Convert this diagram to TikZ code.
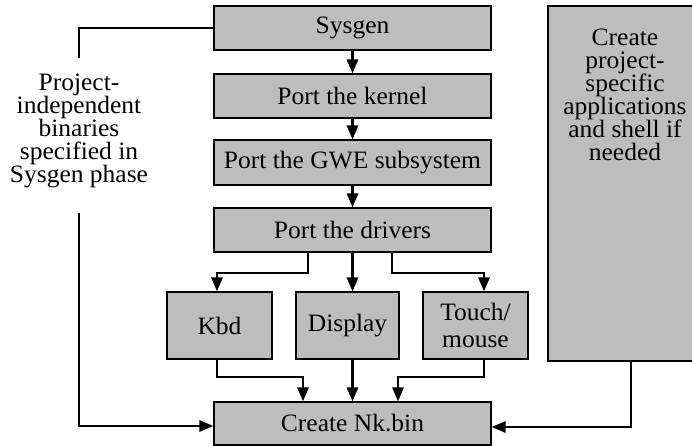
\documentclass[tikz,border=0pt]{standalone}
\usepackage{fontspec}
\setmainfont{Liberation Serif}[FakeStretch=1.02]
\usetikzlibrary{arrows.meta}
\begin{document}
\begin{tikzpicture}[x=1bp,y=-1bp,
  box/.style={draw=black,line width=1.1bp,fill=black!26,inner sep=0pt,
    font=\fontsize{25bp}{26.5bp}\selectfont,align=center},
  conn/.style={line width=2.8bp,black,-{Triangle[length=14bp,width=11bp]}},
  plain/.style={line width=2.8bp,black},
  lbl/.style={font=\fontsize{25bp}{23bp}\selectfont,align=center,inner sep=0pt}]
\useasboundingbox (0,0) rectangle (692,446);
\clip (0,0) rectangle (692,446);
\node[box,minimum width=277bp,minimum height=44bp] (sys) at (352.5,28) {Sysgen};
\node[box,minimum width=277bp,minimum height=44bp] (ker) at (352.5,96) {Port the kernel};
\node[box,minimum width=277bp,minimum height=45bp] (gwe) at (352.5,162.5) {Port the GWE subsystem};
\node[box,minimum width=277bp,minimum height=44bp] (drv) at (352.5,230) {Port the drivers};
\node[box,minimum width=105bp,minimum height=67bp] (kbd) at (219.5,325.5) {Kbd};
\node[box,minimum width=103bp,minimum height=67bp] (dsp) at (347.5,325.5) {Display};
\node[box,minimum width=105bp,minimum height=67bp] (tch) at (475.5,325.5) {Touch/\\mouse};
\node[box,minimum width=277bp,minimum height=43bp] (nk) at (352.5,423.5) {Create Nk.bin};
\node[box,minimum width=152bp,minimum height=355bp] (app) at (624,183.5) {};
\node[lbl,anchor=north] (apptxt) at (625,29) {Create\\project-\\specific\\applications\\and shell if\\needed};
\node[lbl] (proj) at (79,131) {Project-\\independent\\binaries\\specified in\\Sysgen phase};
% main chain
\draw[conn] (sys.south) -- (ker.north);
\draw[conn] (ker.south) -- (gwe.north);
\draw[conn] (gwe.south) -- (drv.north);
\draw[conn] (drv.south) -- (dsp.north -| drv.south);
\draw[conn] (drv.south -| 308,0) |- (217,273) -- (kbd.north -| 217,0);
\draw[conn] (drv.south -| 392,0) |- (484,273) -- (tch.north -| 484,0);
% to Create Nk.bin
\draw[conn] (dsp.south -| drv.south) -- (nk.north -| drv.south);
\draw[conn] (kbd.south -| 217,0) |- (303,377) -- (nk.north -| 303,0);
\draw[conn] (tch.south -| 484,0) |- (398,377) -- (nk.north -| 398,0);
\draw[conn] (app.south -| 631,0) |- (nk.east |- 0,427);
% left path
\draw[plain] (sys.west) -| (79,58);
\draw[conn] (79,213) |- (nk.west |- 0,426);
\end{tikzpicture}
\end{document}
